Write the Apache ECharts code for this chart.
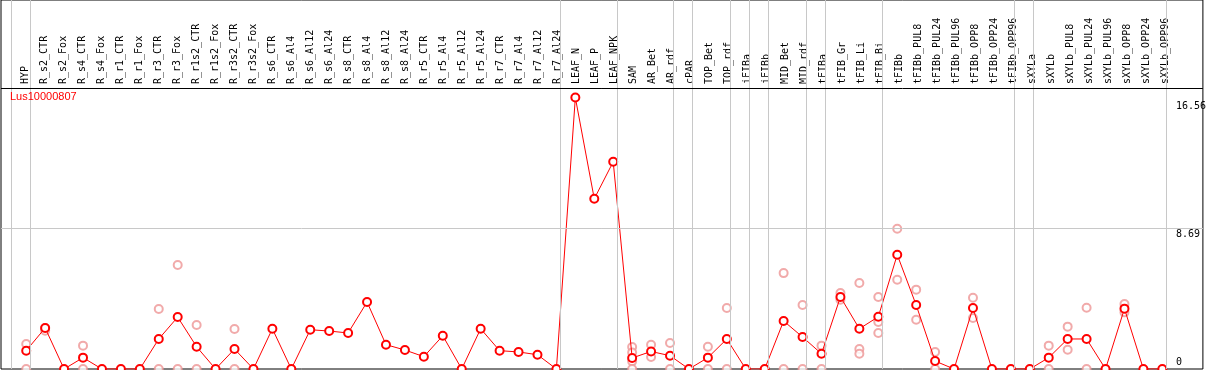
<!DOCTYPE html>
<html>
<head>
<meta charset="utf-8">
<script src="https://cdn.jsdelivr.net/npm/echarts@6/dist/echarts.min.js"></script>
<style>
html,body{margin:0;padding:0;background:#fff;}
#chart{width:1209px;height:370px;}
</style>
</head>
<body>
<div id="chart"></div>
<script>
const categories = ['HYP','R_s2_CTR','R_s2_Fox','R_s4_CTR','R_s4_Fox','R_r1_CTR','R_r1_Fox','R_r3_CTR','R_r3_Fox','R_r1s2_CTR','R_r1s2_Fox','R_r3s2_CTR','R_r3s2_Fox','R_s6_CTR','R_s6_Al4','R_s6_Al12','R_s6_Al24','R_s8_CTR','R_s8_Al4','R_s8_Al12','R_s8_Al24','R_r5_CTR','R_r5_Al4','R_r5_Al12','R_r5_Al24','R_r7_CTR','R_r7_Al4','R_r7_Al12','R_r7_Al24','LEAF_N','LEAF_P','LEAF_NPK','SAM','AR_Bet','AR_rdf','cPAR','TOP_Bet','TOP_rdf','iFIBa','iFIBb','MID_Bet','MID_rdf','tFIBa','tFIB_Gr','tFIB_Li','tFIB_Bi','tFIBb','tFIBb_PUL8','tFIBb_PUL24','tFIBb_PUL96','tFIBb_OPP8','tFIBb_OPP24','tFIBb_OPP96','sXYLa','sXYLb','sXYLb_PUL8','sXYLb_PUL24','sXYLb_PUL96','sXYLb_OPP8','sXYLb_OPP24','sXYLb_OPP96'];

// mean expression (red line)
const meanValues = [1.13,2.53,0,0.70,0,0,0,1.85,3.20,1.37,0,1.23,0,2.48,0,2.42,2.34,2.22,4.13,1.50,1.17,0.76,2.05,0,2.48,1.13,1.05,0.88,0,16.73,10.49,12.77,0.68,1.08,0.82,0,0.70,1.85,0,0,2.96,1.97,0.94,4.44,2.48,3.22,7.04,3.94,0.49,0,3.76,0,0,0,0.70,1.85,1.85,0,3.72,0,0];

// replicate values (pink circles), null where none
const rep1 = [1.54,2.53,null,1.44,null,null,null,3.70,6.41,2.71,null,2.46,null,null,null,null,null,null,null,null,null,null,null,null,null,null,null,null,null,null,null,null,1.36,1.50,1.60,null,1.37,3.76,null,null,5.91,3.94,1.44,4.68,5.30,4.44,8.64,4.89,1.05,null,4.39,null,null,null,1.44,2.61,3.78,null,4.00,null,null];
const rep2 = [0,2.36,null,0,null,null,null,0,0,0,null,0,null,null,null,null,null,null,null,null,null,null,null,null,null,null,null,null,null,null,null,null,1.02,0.74,0,null,0,0,null,null,0,0,0,4.27,1.23,2.90,5.50,3.04,0,null,3.14,null,null,null,0,1.19,0,null,3.49,null,null];
const rep3 = [null,null,null,null,null,null,null,null,null,null,null,null,null,null,null,null,null,null,null,null,null,null,null,null,null,null,null,null,null,null,null,null,0.47,null,null,null,null,null,null,null,null,null,null,null,0.94,2.22,null,null,null,null,null,null,null,null,null,null,null,null,null,null,null];
const rep4 = [null,null,null,null,null,null,null,null,null,null,null,null,null,null,null,null,null,null,null,null,null,null,null,null,null,null,null,null,null,null,null,null,0,null,null,null,null,null,null,null,null,null,null,null,null,null,null,null,null,null,null,null,null,null,null,null,null,null,null,null,null];

// last category index of each group (separator drawn after it)
const groupEnds = [-1,0,28,31,34,35,37,38,39,41,42,45,52,53,60];

const yTickValues = [0, 8.69, 16.56];
const yTickLabels = ['0', '8.69', '16.56'];
const gridValue = 8.69;
const geneName = 'Lus10000807';

// ---- layout constants ----
const PX_PER_UNIT = 16.225;
const Y_MAX = 369 / PX_PER_UNIT;
const HEADER_LINE = (369 - 88) / PX_PER_UNIT;
const X_MIN = (1 - 26.3) / 19;
const X_MAX = (1207 - 26.3) / 19;
const SEP_OFFSET = 3.7 / 19;

const lineData = meanValues.map((v, i) => [i, v]);
const repData = [];
[rep1, rep2, rep3, rep4].forEach(arr => arr.forEach((v, i) => { if (v !== null) repData.push([i, v]); }));

const sepLines = groupEnds.map(i => ({ xAxis: i + SEP_OFFSET, lineStyle: { color: '#c8c8c8', width: 1, type: 'solid' } }));
sepLines.push({ yAxis: gridValue, lineStyle: { color: '#c8c8c8', width: 1, type: 'solid' } });
sepLines.push({ yAxis: HEADER_LINE, lineStyle: { color: '#000', width: 1, type: 'solid' } });

const mono = 'DejaVu Sans Mono';
const chart = echarts.init(document.getElementById('chart'), null, { renderer: 'canvas' });
chart.setOption({
  animation: false,
  backgroundColor: '#fff',
  title: {
    text: geneName, left: 10, top: 91, padding: 0,
    textStyle: { color: '#ff0000', fontSize: 11, fontWeight: 'normal', fontFamily: 'Liberation Sans' }
  },
  grid: [
    { left: 1, right: 2, top: 0, bottom: 1, show: true, borderColor: '#000', borderWidth: 1, backgroundColor: 'transparent', containLabel: false },
    { left: 6.5, right: 24.5, top: 88, height: 1, containLabel: false }
  ],
  xAxis: [
    { gridIndex: 0, type: 'value', min: X_MIN, max: X_MAX, show: false },
    { gridIndex: 1, type: 'value', position: 'top', min: -1, max: 61, interval: 1,
      axisLine: { show: false }, axisTick: { show: false }, splitLine: { show: false },
      axisLabel: { rotate: 90, margin: 4, fontFamily: mono, fontSize: 10, color: '#000',
        showMinLabel: true, showMaxLabel: true,
        formatter: v => (Number.isInteger(v) && categories[v]) ? categories[v] : '' } }
  ],
  yAxis: [
    { gridIndex: 0, type: 'value', position: 'right', min: 0, max: Y_MAX,
      axisLine: { show: false }, axisTick: { show: false }, splitLine: { show: false },
      axisLabel: { inside: true, align: 'left', margin: 27, customValues: yTickValues,
        fontFamily: mono, fontSize: 10, color: '#000',
        formatter: v => {
          const k = yTickValues.indexOf(v);
          const t = k >= 0 ? yTickLabels[k] : '';
          return v === 0 ? '{b|' + t + '}' : '{t|' + t + '}';
        },
        rich: {
          t: { fontFamily: mono, fontSize: 10, color: '#000', padding: [12, 0, 0, 0] },
          b: { fontFamily: mono, fontSize: 10, color: '#000', padding: [0, 0, 14, 0] }
        } } },
    { gridIndex: 1, type: 'value', show: false }
  ],
  series: [
    { type: 'line', xAxisIndex: 0, yAxisIndex: 0, data: [], silent: true,
      markLine: { silent: true, symbol: 'none', label: { show: false }, data: sepLines, animation: false } },
    { type: 'scatter', xAxisIndex: 0, yAxisIndex: 0, data: repData, symbol: 'emptyCircle', symbolSize: 8,
      itemStyle: { color: '#ee9595', borderWidth: 1.5 }, z: 3 },
    { type: 'line', xAxisIndex: 0, yAxisIndex: 0, data: lineData, symbol: 'emptyCircle', symbolSize: 8,
      lineStyle: { color: '#ff0000', width: 1 }, itemStyle: { color: '#ff0000', borderWidth: 1.5 }, z: 4 }
  ]
});
</script>
</body>
</html>
